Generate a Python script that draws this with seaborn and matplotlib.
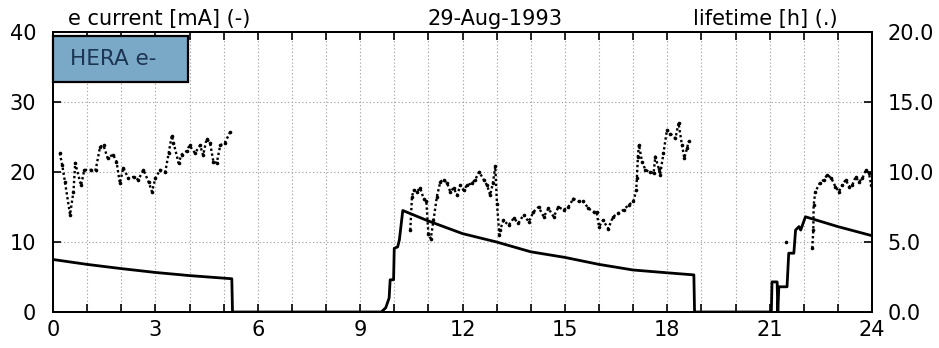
import numpy as np
import pandas as pd
import matplotlib
matplotlib.use("Agg")
import matplotlib.pyplot as plt
from matplotlib.patches import Rectangle
import seaborn as sns

# ---------------- data ----------------
hour_current = [0, 1, 2, 3, 4, 5.24, 5.26, 9.62, 9.75, 9.85, 9.88, 9.98, 10.0, 10.1,
                10.15, 10.25, 11.0, 12.0, 13.0, 14.0, 15.0, 16.0, 17.0, 18.0, 18.78,
                18.8, 21.0, 21.05, 21.07, 21.22, 21.24, 21.27, 21.51, 21.56, 21.71,
                21.76, 21.86, 21.91, 22.05, 23.0, 24.0]
current_mA = [7.5, 6.8, 6.2, 5.65, 5.2, 4.75, 0, 0, 0.6, 2.0, 4.6, 4.6, 9.1, 9.3,
              10.3, 14.5, 13.0, 11.2, 10.0, 8.6, 7.8, 6.8, 6.0, 5.6, 5.3,
              0, 0, 0, 4.3, 4.3, 0, 3.6, 3.6, 8.4, 8.4,
              11.7, 12.2, 11.7, 13.6, 12.2, 10.9]

hour_life_1 = [0.20, 0.27, 0.35, 0.50, 0.60, 0.65, 0.82, 0.92, 1.10, 1.25, 1.38, 1.48,
               1.60, 1.76, 1.86, 1.96, 2.06, 2.21, 2.36, 2.50, 2.65, 2.80, 2.90, 3.00,
               3.14, 3.29, 3.39, 3.48, 3.53, 3.68, 3.77, 3.92, 4.00, 4.16, 4.31, 4.40,
               4.50, 4.60, 4.70, 4.80, 4.90, 5.04, 5.19]
life_1 = [11.35, 10.5, 9.3, 6.95, 8.6, 10.65, 9.05, 10.15, 10.15, 10.15, 11.8, 11.9,
          11.0, 11.25, 10.75, 9.2, 10.3, 9.55, 9.65, 9.45, 10.15, 9.3, 8.6, 9.55,
          10.15, 10.0, 11.35, 12.6, 12.1, 10.65, 11.25, 11.5, 11.9, 11.35, 11.9, 11.2,
          12.35, 12.1, 10.75, 10.65, 11.9, 12.1, 12.85]

hour_life_2 = [10.47, 10.52, 10.57, 10.66, 10.76, 10.86, 10.94, 11.00, 11.07, 11.15,
               11.25, 11.35, 11.45, 11.55, 11.64, 11.74, 11.84, 11.94, 12.03, 12.13,
               12.28, 12.37, 12.49, 12.62, 12.72, 12.81, 12.89, 12.96, 13.01, 13.08,
               13.10, 13.20, 13.35, 13.50, 13.64, 13.79, 13.94, 14.08, 14.23, 14.38,
               14.52, 14.67, 14.81, 14.96, 15.10, 15.25, 15.40, 15.54, 15.69, 15.84,
               15.93, 16.00, 16.12, 16.27, 16.41, 16.57, 16.72, 16.87, 17.01, 17.09,
               17.11, 17.14, 17.17, 17.26, 17.36, 17.50, 17.60, 17.65, 17.75, 17.79,
               17.89, 17.99, 18.09, 18.24, 18.33, 18.43, 18.50, 18.58, 18.63]
life_2 = [5.85, 8.25, 8.7, 8.6, 8.85, 8.1, 7.9, 5.6, 5.25, 6.55,
          8.25, 9.3, 9.45, 9.2, 8.6, 8.85, 8.35, 9.05, 8.7, 9.05,
          9.2, 9.45, 10.0, 9.45, 9.05, 8.35, 9.2, 10.4, 7.75, 5.5,
          5.85, 6.55, 6.2, 6.7, 6.35, 6.95, 6.45, 7.15, 7.5, 6.8,
          7.4, 6.8, 7.5, 7.3, 7.5, 8.1, 7.9, 7.9, 7.4, 7.15,
          7.15, 6.1, 6.55, 5.95, 6.8, 7.05, 7.3, 7.65, 7.9, 8.7,
          9.55, 11.1, 11.95, 10.75, 10.15, 10.0, 9.9, 11.1, 10.25, 9.8,
          11.35, 13.0, 12.75, 12.4, 13.5, 11.95, 11.0, 11.7, 12.2]

hour_life_3 = [21.49]
life_3 = [5.0]

hour_life_4 = [22.25, 22.28, 22.29, 22.34, 22.47, 22.59, 22.69, 22.81, 22.93, 23.03,
               23.13, 23.23, 23.33, 23.42, 23.52, 23.62, 23.72, 23.82, 23.91, 23.98]
life_4 = [4.55, 5.85, 7.65, 8.6, 9.2, 9.45, 9.8, 9.55, 8.95, 8.6,
          9.05, 9.45, 8.95, 9.05, 9.65, 9.3, 9.55, 10.15, 9.9, 9.05]

x_ticks = [0, 3, 6, 9, 12, 15, 18, 21, 24]
left_ticks = [0, 10, 20, 30, 40]
right_ticks = [0, 5, 10, 15, 20]

# ---------------- frames ----------------
df_cur = pd.DataFrame({"hour": hour_current, "current": current_mA})
df_life = pd.concat([
    pd.DataFrame({"hour": h, "life": v, "run": i})
    for i, (h, v) in enumerate([(hour_life_1, life_1), (hour_life_2, life_2),
                                (hour_life_3, life_3), (hour_life_4, life_4)])
], ignore_index=True)

# ---------------- style ----------------
sns.set_style("white")
plt.rcParams["font.family"] = ["DejaVu Sans"]
plt.rcParams["font.size"] = 15
plt.rcParams["text.color"] = "black"
plt.rcParams["xtick.color"] = "black"
plt.rcParams["ytick.color"] = "black"
plt.rcParams["axes.labelcolor"] = "black"

fig = plt.figure(figsize=(9.39, 3.48), dpi=100)
ax = fig.add_axes([53 / 939, 36 / 348, 819 / 939, 280 / 348])
ax2 = ax.twinx()

# grid
ax.set_xlim(0, 24)
ax.set_ylim(0, 40)
ax.set_xticks(x_ticks)
ax.set_xticks(range(0, 25), minor=True)
ax.set_yticks(left_ticks)
ax.grid(which="both", axis="x", linestyle=(0, (1, 2.2)), color="#9a9a9a", lw=0.8)
ax.grid(which="major", axis="y", linestyle=(0, (1, 2.2)), color="#9a9a9a", lw=0.8)
ax.set_axisbelow(True)

sns.lineplot(data=df_cur, x="hour", y="current", ax=ax, color="black",
             lw=2.0, sort=False, estimator=None, zorder=3)

ax2.set_ylim(0, 20)
ax2.set_yticks(right_ticks)
ax2.set_yticklabels([f"{v:.1f}" for v in right_ticks])
sns.lineplot(data=df_life, x="hour", y="life", units="run", estimator=None,
             ax=ax2, color="black", lw=1.7, linestyle=(0, (1, 1.1)),
             marker="o", markersize=2.6, markeredgewidth=0, sort=False, legend=False)
ax2.set_xlim(0, 24)

for a in (ax, ax2):
    a.set_xlabel("")
    a.set_ylabel("")
    for s in a.spines.values():
        s.set_color("black")
        s.set_linewidth(1.4)

ax.tick_params(axis="x", which="both", direction="in", top=True, bottom=True,
               length=6, width=1.2, labelsize=15, pad=6, colors="black")
ax.tick_params(axis="y", which="major", direction="in", left=True, length=6,
               width=1.2, labelsize=15, pad=12, colors="black")
ax2.tick_params(axis="y", which="major", direction="in", right=True, length=6,
                width=1.2, labelsize=15, pad=11, colors="black")

# header texts
ax.text(0.018, 1.01, "e current [mA] (-)", transform=ax.transAxes,
        ha="left", va="bottom", fontsize=15, color="black")
ax.text(0.54, 1.01, "29-Aug-1993", transform=ax.transAxes,
        ha="center", va="bottom", fontsize=15, color="black")
ax.text(0.958, 1.01, "lifetime [h] (.)", transform=ax.transAxes,
        ha="right", va="bottom", fontsize=15, color="black")

# HERA box
ax2.add_patch(Rectangle((0.0, 0.821), 0.165, 0.165, transform=ax.transAxes,
                        facecolor="#7aa9c8", edgecolor="black", lw=1.6,
                        zorder=5, clip_on=False))
ax2.text(0.021, 0.903, "HERA e-", transform=ax.transAxes, ha="left",
         va="center", fontsize=15.5, color="#1b3552", zorder=6)

fig.savefig("out.png", dpi=100)
